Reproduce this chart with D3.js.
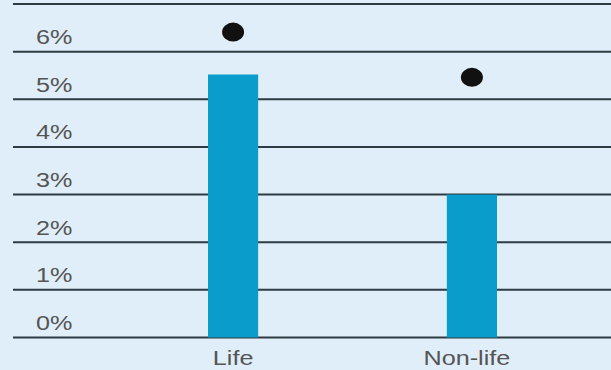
<!DOCTYPE html>
<html>
<head>
<meta charset="utf-8">
<script src="https://cdn.jsdelivr.net/npm/d3@7"></script>
<style>
  html, body { margin: 0; padding: 0; background: #dfeef8; }
  svg { display: block; }
  text { font-family: "Liberation Sans", Arial, Helvetica, sans-serif; fill: #555; }
</style>
</head>
<body>
<svg id="chart" width="611" height="370"></svg>
<script>
// Categories and values (percent)
const categories = ["Life", "Non-life"];
const barValues = [5.52, 3.0];
const dotValues = [6.41, 5.46];
const tickValues = [0, 1, 2, 3, 4, 5, 6, 7];
const tickLabels = ["0%", "1%", "2%", "3%", "4%", "5%", "6%", ""];

const W = 611, H = 370;
const svg = d3.select("#chart");

svg.append("rect").attr("width", W).attr("height", H).attr("fill", "#dfeef8");

const y = d3.scaleLinear().domain([0, 7]).range([337.5, 4]);
const x = d3.scaleBand().domain(categories).range([208, 497])
  .paddingInner(0.79).paddingOuter(0);

const gridLeft = 13, gridRight = W;
const textScale = 1.2;

// Horizontal gridlines
svg.append("g").selectAll("line").data(tickValues).join("line")
  .attr("x1", gridLeft).attr("x2", gridRight)
  .attr("y1", d => y(d)).attr("y2", d => y(d))
  .attr("stroke", "#2e3b42").attr("stroke-width", 2);

// Y tick labels sit just above their gridline
svg.append("g").selectAll("text").data(tickValues).join("text")
  .attr("transform", d => `translate(36,${y(d) - 7.5}) scale(${textScale},1)`)
  .attr("font-size", 21)
  .text((d, i) => tickLabels[i]);

// Bars
svg.append("g").selectAll("rect").data(categories).join("rect")
  .attr("x", d => x(d))
  .attr("width", x.bandwidth())
  .attr("y", (d, i) => y(barValues[i]))
  .attr("height", (d, i) => y(0) - y(barValues[i]))
  .attr("fill", "#0a9dcb");

// Dots
svg.append("g").selectAll("ellipse").data(categories).join("ellipse")
  .attr("cx", d => x(d) + x.bandwidth() / 2)
  .attr("cy", (d, i) => y(dotValues[i]))
  .attr("rx", 11).attr("ry", 9.5)
  .attr("fill", "#111");

// Category labels
svg.append("g").selectAll("text").data(categories).join("text")
  .attr("transform", d => `translate(${x(d) + x.bandwidth() / 2 - (d === "Non-life" ? 5 : 0)},365) scale(${textScale},1)`)
  .attr("text-anchor", "middle")
  .attr("font-size", 21)
  .text(d => d);
</script>
</body>
</html>
